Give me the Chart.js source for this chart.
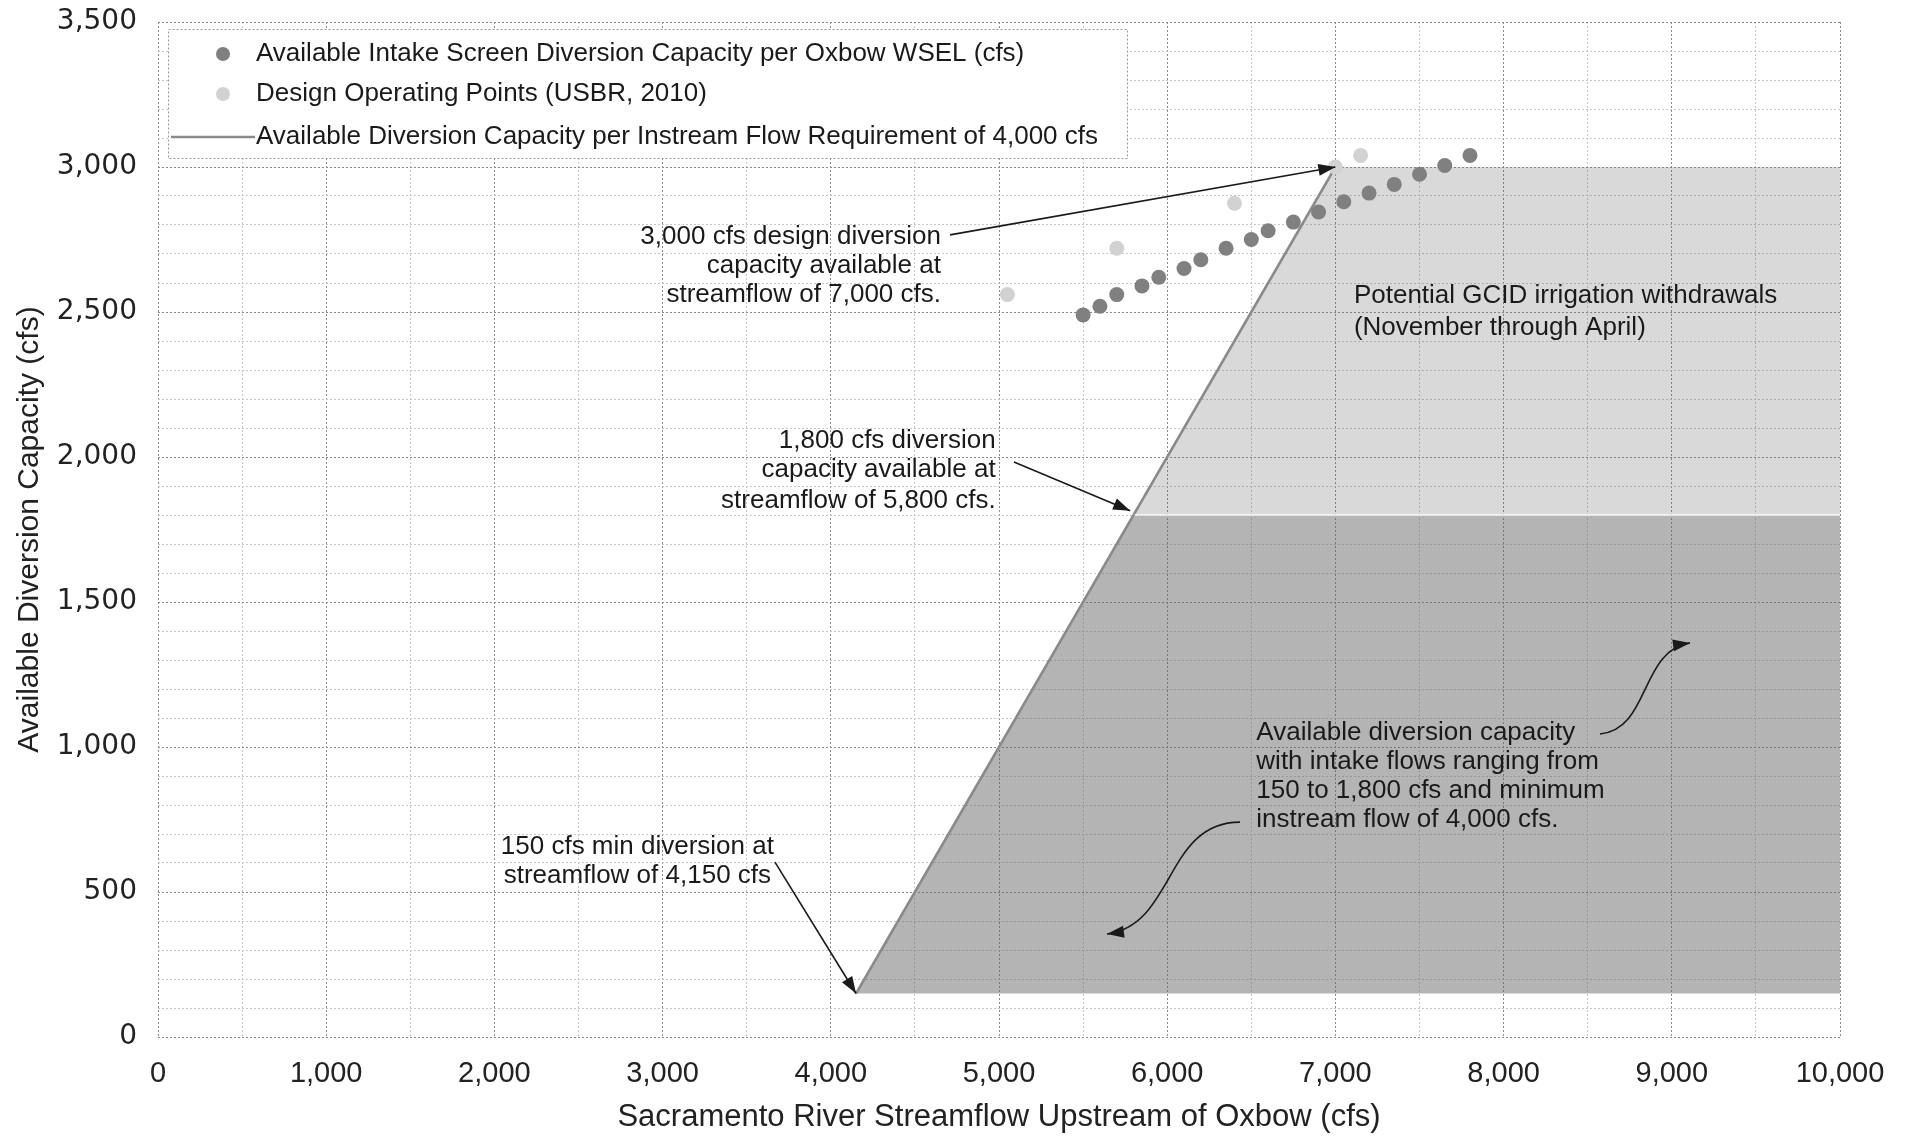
<!DOCTYPE html>
<html>
<head>
<meta charset="utf-8">
<script src="https://cdn.jsdelivr.net/npm/chart.js@4.4.1/dist/chart.umd.min.js"></script>
<style>
  html, body { margin: 0; padding: 0; background: #fff; }
  #wrap { width: 1911px; height: 1138px; position: relative; }
</style>
</head>
<body>
<div id="wrap"><canvas id="chart"></canvas></div>
<script>
// values
const intakeFlow = [5500, 5600, 5700, 5850, 5950, 6100, 6200, 6350, 6500, 6600, 6750, 6900, 7050, 7200, 7350, 7500, 7650, 7800];
const intakeCapacity = [2490, 2520, 2560, 2590, 2620, 2650, 2680, 2720, 2750, 2780, 2810, 2845, 2880, 2910, 2940, 2975, 3005, 3040];
const designFlow = [5050, 5700, 6400, 7000, 7150];
const designCapacity = [2560, 2720, 2875, 3000, 3040];
const instreamFlow = [4150, 7000];
const instreamCapacity = [150, 3000];
// shaded areas (lower: 150-1,800 cfs intake, upper: GCID withdrawals up to 3,000)
const lowerAreaFlow = [4150, 5800, 10000];
const lowerAreaCapacity = [150, 1800, 1800];
const upperAreaFlow = [5800, 7000, 10000];
const upperAreaCapacity = [1800, 3000, 3000];
const xTickLabels = [0, 1000, 2000, 3000, 4000, 5000, 6000, 7000, 8000, 9000, 10000];
const yTickLabels = [0, 500, 1000, 1500, 2000, 2500, 3000, 3500];

const pts = (xs, ys) => xs.map((x, i) => ({x, y: ys[i]}));
const fmt = v => v.toLocaleString('en-US');
const FONT = '"Liberation Sans", Arial, sans-serif';

const notes = [
  {x: 4655, y: [2760, 2660, 2560], align: 'right',
   lines: ['3,000 cfs design diversion', 'capacity available at', 'streamflow of 7,000 cfs.']},
  {x: 4980, y: [2055, 1955, 1850], align: 'right',
   lines: ['1,800 cfs diversion', 'capacity available at', 'streamflow of 5,800 cfs.']},
  {x: 7110, y: [2555, 2445], align: 'left',
   lines: ['Potential GCID irrigation withdrawals', '(November through April)']},
  {x: 6530, y: [1050, 950, 850, 750], align: 'left',
   lines: ['Available diversion capacity', 'with intake flows ranging from', '150 to 1,800 cfs and minimum', 'instream flow of 4,000 cfs.']},
  {x: 2850, y: [655, 555], align: 'center',
   lines: ['150 cfs min diversion at', 'streamflow of 4,150 cfs']}
];
// straight arrows: from -> to; curved: bezier control points
const arrows = [
  {p: [[4709, 2766], [7000, 3000]]},
  {p: [[5089, 1983], [5780, 1815]]},
  {p: [[3668, 603], [4150, 150]]},
  {p: [[8573, 1045], [8870, 1059], [8811, 1334], [9108, 1359]]},
  {p: [[6433, 741], [5987, 741], [6046, 386], [5642, 355]]}
];

function head(ctx, fx, fy, tx, ty) {
  const a = Math.atan2(ty - fy, tx - fx), L = 17, W = 6;
  ctx.beginPath();
  ctx.moveTo(tx, ty);
  ctx.lineTo(tx - L * Math.cos(a) + W * Math.sin(a), ty - L * Math.sin(a) - W * Math.cos(a));
  ctx.lineTo(tx - L * Math.cos(a) - W * Math.sin(a), ty - L * Math.sin(a) + W * Math.cos(a));
  ctx.closePath();
  ctx.fill();
}

const notesPlugin = {
  id: 'notes',
  afterDatasetsDraw(chart) {
    const {ctx, scales: {x, y}} = chart;
    ctx.save();
    // thin pale seam between the two shaded areas
    ctx.strokeStyle = 'rgba(255,255,255,0.7)';
    ctx.lineWidth = 2;
    ctx.beginPath();
    ctx.moveTo(x.getPixelForValue(5800) + 1, y.getPixelForValue(1800));
    ctx.lineTo(x.getPixelForValue(10000), y.getPixelForValue(1800));
    ctx.stroke();

    ctx.fillStyle = '#1a1a1a';
    ctx.strokeStyle = '#1a1a1a';
    ctx.font = '26px ' + FONT;
    ctx.textBaseline = 'middle';
    notes.forEach(n => {
      ctx.textAlign = n.align;
      n.lines.forEach((t, i) => ctx.fillText(t, x.getPixelForValue(n.x), y.getPixelForValue(n.y[i])));
    });
    ctx.lineWidth = 1.6;
    arrows.forEach(a => {
      const p = a.p.map(q => [x.getPixelForValue(q[0]), y.getPixelForValue(q[1])]);
      ctx.beginPath();
      ctx.moveTo(p[0][0], p[0][1]);
      if (p.length === 2) ctx.lineTo(p[1][0], p[1][1]);
      else ctx.bezierCurveTo(p[1][0], p[1][1], p[2][0], p[2][1], p[3][0], p[3][1]);
      ctx.stroke();
      const n = p.length;
      head(ctx, p[n - 2][0], p[n - 2][1], p[n - 1][0], p[n - 1][1]);
    });
    ctx.restore();
  },
  afterDraw(chart) {
    // legend box in the upper left of the plot
    const {ctx} = chart;
    const ds = chart.data.datasets;
    ctx.save();
    ctx.fillStyle = '#fff';
    ctx.fillRect(168, 29, 959, 129);
    ctx.strokeStyle = '#999';
    ctx.lineWidth = 1;
    ctx.setLineDash([2, 2]);
    ctx.strokeRect(168.5, 29.5, 959, 129);
    ctx.setLineDash([]);
    const rows = [54, 94, 137];
    ctx.font = '26px ' + FONT;
    ctx.textBaseline = 'middle';
    ctx.textAlign = 'left';
    [ds[0], ds[1]].forEach((d, i) => {
      ctx.fillStyle = d.backgroundColor;
      ctx.beginPath();
      ctx.arc(223, rows[i], 7, 0, Math.PI * 2);
      ctx.fill();
    });
    ctx.strokeStyle = ds[2].borderColor;
    ctx.lineWidth = ds[2].borderWidth;
    ctx.beginPath();
    ctx.moveTo(171, rows[2]);
    ctx.lineTo(255, rows[2]);
    ctx.stroke();
    ctx.fillStyle = '#1a1a1a';
    [ds[0], ds[1], ds[2]].forEach((d, i) => ctx.fillText(d.label, 256, rows[i]));
    ctx.restore();
  }
};

const gridColor = (ctx, major) => (ctx.tick && ctx.tick.value % major === 0) ? '#8a8a8a' : '#c6c6c6';

new Chart(document.getElementById('chart'), {
  type: 'scatter',
  data: {
    datasets: [
      {label: 'Available Intake Screen Diversion Capacity per Oxbow WSEL (cfs)',
       data: pts(intakeFlow, intakeCapacity), backgroundColor: '#808080', borderWidth: 0,
       pointRadius: 7.5, order: 1},
      {label: 'Design Operating Points (USBR, 2010)',
       data: pts(designFlow, designCapacity), backgroundColor: '#d2d2d2', borderWidth: 0,
       pointRadius: 7.5, order: 2},
      {label: 'Available Diversion Capacity per Instream Flow Requirement of 4,000 cfs',
       data: pts(instreamFlow, instreamCapacity), showLine: true, borderColor: '#8a8a8a',
       borderWidth: 2.5, pointRadius: 0, order: 3},
      {label: 'lower', data: pts(lowerAreaFlow, lowerAreaCapacity), showLine: true,
       fill: {value: 150}, backgroundColor: 'rgba(95,95,95,0.47)', borderWidth: 0, pointRadius: 0, order: 5},
      {label: 'upper', data: pts(upperAreaFlow, upperAreaCapacity), showLine: true,
       fill: {value: 1800}, backgroundColor: 'rgba(95,95,95,0.24)', borderWidth: 0, pointRadius: 0, order: 4}
    ]
  },
  options: {
    responsive: true,
    maintainAspectRatio: false,
    animation: false,
    layout: {padding: {top: 22, right: 71, left: 0, bottom: 0}},
    plugins: {legend: {display: false}, tooltip: {enabled: false}},
    scales: {
      x: {
        type: 'linear', min: 0, max: 10000,
        afterFit: s => { s.height = 101; s.paddingLeft = 0; s.paddingRight = 0; },
        ticks: {
          stepSize: 500, autoSkip: false, maxRotation: 0, padding: 20,
          color: '#222', font: {family: FONT, size: 29},
          callback: v => xTickLabels.includes(v) ? fmt(v) : ''
        },
        grid: {color: c => gridColor(c, 1000), lineWidth: 1, drawTicks: false},
        border: {display: false, dash: [2, 2]},
        title: {display: true, text: 'Sacramento River Streamflow Upstream of Oxbow (cfs)',
                color: '#222', font: {family: FONT, size: 31}, padding: {top: 0, bottom: 2}}
      },
      y: {
        min: 0, max: 3500,
        afterFit: s => { s.width = 158; s.paddingTop = 0; s.paddingBottom = 0; },
        ticks: {
          stepSize: 100, autoSkip: false, padding: 21,
          color: '#222', font: {family: '"DejaVu Sans", sans-serif', size: 28},
          callback: v => yTickLabels.includes(v) ? fmt(v) : ''
        },
        grid: {color: c => gridColor(c, 500), lineWidth: 1, drawTicks: false},
        border: {display: false, dash: [2, 2]},
        title: {display: true, text: 'Available Diversion Capacity (cfs)',
                color: '#222', font: {family: FONT, size: 30}, padding: {top: 12, bottom: 0}}
      }
    }
  },
  plugins: [notesPlugin]
});
</script>
</body>
</html>
